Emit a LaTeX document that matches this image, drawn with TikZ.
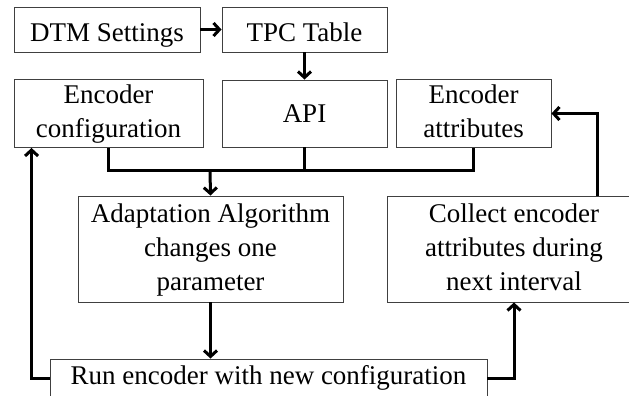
\documentclass[tikz,border=0pt]{standalone}
\usepackage{fontspec}
\setmainfont{Liberation Serif}
\usetikzlibrary{arrows.meta,calc}
\definecolor{boxgray}{HTML}{404040}
\newcommand{\boxtext}[2][0pt]{\raisebox{-#1}[\height][\depth]{\begin{tabular}{@{}c@{}}#2\end{tabular}}}
\begin{document}
\begin{tikzpicture}[x=1pt,y=-1pt,
  box/.style={draw=boxgray, line width=0.9pt, inner sep=0pt,
    font=\fontsize{27}{34}\selectfont, fill=white},
  conn/.style={line width=3pt, line join=miter, -{Straight Barb[length=6pt,width=13pt]}},
  plain/.style={line width=3pt, line join=miter}]
\useasboundingbox (0,0) rectangle (629,396);
\node[box, minimum width=186pt, minimum height=45pt] (dtm) at (107,29.5) {\boxtext[5pt]{DTM Settings}};
\node[box, minimum width=165pt, minimum height=45pt] (tpc) at (304.5,29.5) {\boxtext[5pt]{TPC Table}};
\node[box, minimum width=189pt, minimum height=67pt] (encconf) at (108.5,113.5) {\boxtext{Encoder\\configuration}};
\node[box, minimum width=165pt, minimum height=67pt] (api) at (304.5,113.5) {\boxtext[2.5pt]{API}};
\node[box, minimum width=155pt, minimum height=67pt] (encattr) at (473.5,113.5) {\boxtext{Encoder\\attributes}};
\node[box, minimum width=265pt, minimum height=106pt] (adapt) at (210.5,249) {\boxtext[1pt]{Adaptation Algorithm\\changes one\\parameter}};
\node[box, minimum width=254pt, minimum height=106pt] (collect) at (514,249) {\boxtext[1pt]{Collect encoder\\attributes during\\next interval}};
\node[box, minimum width=437pt, minimum height=38pt] (run) at (268.5,378) {\boxtext{Run encoder with new configuration}};
\coordinate (bus) at (210,170);
\coordinate (cu) at (597,196);
\draw[conn] (dtm.east) -- (tpc.west);
\draw[conn] (tpc.south) -- (api.north);
\draw[plain] (encconf.south) |- (bus) -| (encattr.south);
\draw[plain] (api.south) -- (api.south |- bus);
\draw[conn] (bus) -- (adapt.north);
\draw[conn] (adapt.south) -- (adapt.south |- run.north);
\draw[conn] (run.west) -| ($(encconf.south west)+(18,0)$);
\draw[conn] (run.east) -| (collect.south);
\draw[conn] (cu) |- (encattr.east);
\end{tikzpicture}
\end{document}
